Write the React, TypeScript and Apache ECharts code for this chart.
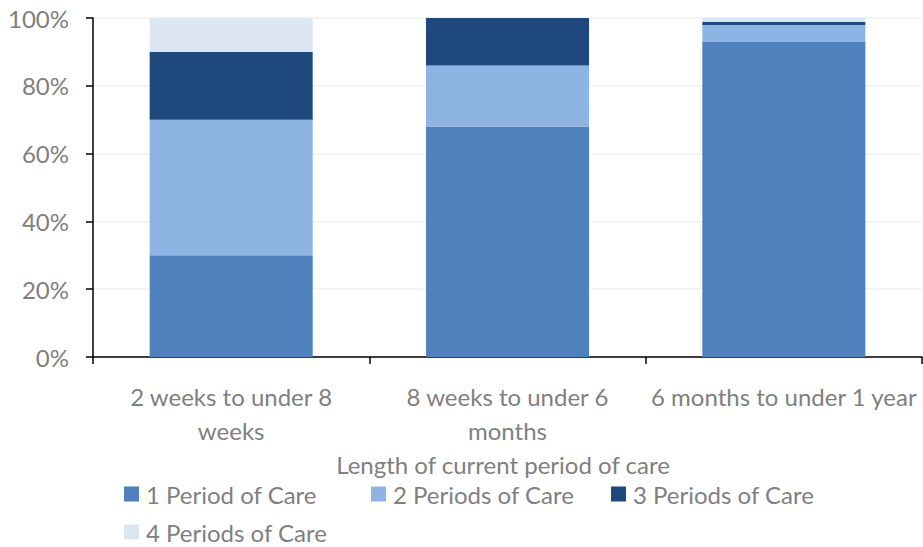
import React, { useEffect, useRef } from "react";
import * as echarts from "echarts";

const categories = [
  "2 weeks to under 8 weeks",
  "8 weeks to under 6 months",
  "6 months to under 1 year",
];
const tickLabels = [
  "2 weeks to under 8\nweeks",
  "8 weeks to under 6\nmonths",
  "6 months to under 1 year",
];
const seriesNames = [
  "1 Period of Care",
  "2 Periods of Care",
  "3 Periods of Care",
  "4 Periods of Care",
];
const period1 = [30, 68, 92.9];
const period2 = [40, 18, 5.0];
const period3 = [20, 14, 0.9];
const period4 = [10, 0, 1.2];
const colors = ["#4f81bd", "#8eb4e3", "#1f497d", "#dce6f2"];
const yTicks = [0, 20, 40, 60, 80, 100];

const FONT = "Lato, 'Open Sans', sans-serif";
const GRAY = "#7f7f7f";
const FS = 24;

export default function App() {
  const ref = useRef<HTMLDivElement>(null);
  useEffect(() => {
    if (!ref.current) return;
    const chart = echarts.init(ref.current, null, { renderer: "svg" });
    const values = [period1, period2, period3, period4];
    const legendPos = [
      { left: 124, top: 482 },
      { left: 371, top: 482 },
      { left: 611, top: 482 },
      { left: 124, top: 520 },
    ];
    chart.setOption({
      animation: false,
      textStyle: { fontFamily: FONT },
      title: {
        text: "Length of current period of care",
        left: 498,
        top: 447,
        textAlign: "center",
        textStyle: { fontFamily: FONT, fontSize: FS, fontWeight: "normal", color: GRAY },
      },
      legend: seriesNames.map((n, i) => ({
        data: [n],
        left: legendPos[i].left,
        top: legendPos[i].top,
        itemWidth: 15,
        itemHeight: 15,
        itemGap: 8,
        icon: "rect",
        padding: 0,
        textStyle: { fontFamily: FONT, fontSize: FS, color: GRAY, padding: [0, 0, 0, 2] },
      })),
      grid: { left: 93, right: 1, top: 18, bottom: 190, containLabel: false },
      xAxis: {
        type: "category",
        data: categories,
        axisLine: { lineStyle: { color: "#000", width: 1.5 } },
        axisTick: { show: true, length: 7, lineStyle: { color: "#000", width: 1.5 } },
        axisLabel: {
          interval: 0,
          color: GRAY,
          fontFamily: FONT,
          fontSize: FS,
          lineHeight: 34,
          margin: 22,
          formatter: (_v: string, i: number) => tickLabels[i],
        },
      },
      yAxis: {
        type: "value",
        min: yTicks[0],
        max: yTicks[yTicks.length - 1],
        interval: 20,
        axisLine: { show: true, lineStyle: { color: "#000", width: 1.5 } },
        axisTick: { show: true, length: 7, lineStyle: { color: "#000", width: 1.5 } },
        splitLine: { lineStyle: { color: "#f0f0f0", width: 1.5 } },
        axisLabel: {
          color: GRAY,
          fontFamily: FONT,
          fontSize: FS,
          margin: 24,
          formatter: "{value}%",
        },
      },
      series: seriesNames.map((n, i) => ({
        name: n,
        type: "bar",
        stack: "total",
        data: values[i],
        barWidth: "59%",
        itemStyle: { color: colors[i] },
      })),
    });
    return () => chart.dispose();
  }, []);
  return (
    <div
      ref={ref}
      style={{ position: "absolute", left: 0, top: 0, width: 923, height: 547 }}
    />
  );
}
